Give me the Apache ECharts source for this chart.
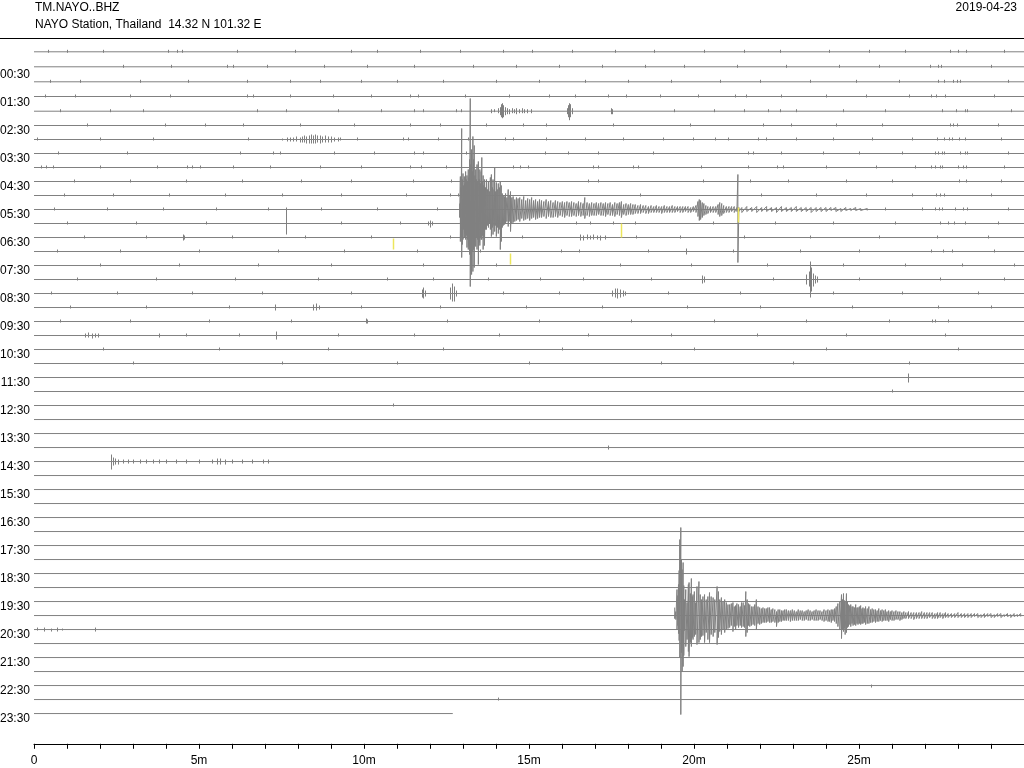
<!DOCTYPE html>
<html lang="en">
<head>
<meta charset="UTF-8">
<title>TM.NAYO..BHZ dayplot</title>
<script src="https://cdn.jsdelivr.net/npm/echarts@6.0.0/dist/echarts.min.js"></script>
<style>
  html, body { margin: 0; padding: 0; background: #fff; }
  #main { width: 1024px; height: 768px; }
</style>
</head>
<body>
<div id="main"></div>
<script>
var hourLabels = ['00:30','01:30','02:30','03:30','04:30','05:30','06:30','07:30','08:30','09:30','10:30','11:30',
                  '12:30','13:30','14:30','15:30','16:30','17:30','18:30','19:30','20:30','21:30','22:30','23:30'];
var minuteLabels = ['0', '5m', '10m', '15m', '20m', '25m'];
var traceCount = 48;          // one line every 30 minutes
var lastTraceEnd = 12.69;     // minutes recorded on the last line
var baselineShift = [-0.264, -0.193, -0.121, -0.071, -0.021];  // offsets (in line spacings) of the first lines
var countsPerLine = 14;       // amplitude units per line spacing

// big quake on the 05:30 line: [minute, up, down]
var quake1Trace = 11;
var quake1 = [
  [12.90, 6, 8], [12.92, 33, 32], [12.94, 22, 28], [12.96, 81, 48], [12.98, 30, 35], [13.00, 36, 30],
  [13.02, 24, 20], [13.04, 33, 28], [13.06, 26, 24], [13.08, 38, 30], [13.10, 30, 26], [13.12, 34, 38],
  [13.14, 28, 30], [13.16, 40, 40], [13.18, 32, 36], [13.20, 50, 45], [13.22, 111, 77], [13.24, 45, 50],
  [13.26, 60, 65], [13.28, 38, 42], [13.30, 73, 62], [13.32, 50, 40], [13.34, 64, 58], [13.36, 34, 36],
  [13.385, 40, 37], [13.405, 30, 28], [13.425, 45, 40], [13.445, 28, 30], [13.465, 48, 55], [13.49, 30, 33],
  [13.51, 40, 36], [13.53, 26, 28], [13.55, 38, 30], [13.57, 52, 30], [13.59, 28, 26], [13.61, 34, 40],
  [13.63, 24, 28], [13.65, 30, 36], [13.68, 22, 20], [13.71, 30, 20], [13.74, 20, 16], [13.77, 28, 18],
  [13.80, 18, 14], [13.83, 32, 20], [13.86, 35, 27], [13.89, 22, 18], [13.91, 30, 25], [13.94, 20, 16],
  [13.96, 42, 22], [13.99, 18, 16], [14.01, 27, 27], [14.04, 20, 18], [14.07, 26, 24], [14.10, 22, 20],
  [14.13, 28, 40], [14.16, 24, 32], [14.19, 16, 18], [14.22, 14, 16], [14.26, 13, 15], [14.29, 16, 14],
  [14.33, 12, 12], [14.37, 20, 17], [14.40, 14, 12], [14.44, 18, 22], [14.48, 12, 14], [14.52, 13, 13],
  [14.57, 10, 12], [14.62, 12, 11], [14.67, 11, 10], [14.72, 12, 12], [14.78, 10, 9], [14.84, 13, 11],
  [14.90, 9, 10], [14.96, 11, 9], [15.02, 10, 11], [15.08, 12, 9], [15.14, 9, 8], [15.20, 10, 10],
  [15.26, 8, 9], [15.32, 10, 8], [15.38, 9, 8], [15.45, 8, 7], [15.52, 10, 9], [15.59, 8, 7],
  [15.66, 9, 8], [15.73, 7, 8], [15.80, 9, 7], [15.87, 8, 8], [15.94, 7, 6], [16.01, 8, 7],
  [16.08, 7, 8], [16.15, 8, 6], [16.22, 7, 7], [16.29, 8, 7], [16.36, 7, 6], [16.43, 6, 7],
  [16.50, 8, 6], [16.57, 7, 7], [16.64, 6, 6], [16.69, 12, 9], [16.76, 7, 6], [16.83, 6, 7],
  [16.90, 7, 6], [16.97, 6, 6], [17.04, 7, 6], [17.11, 6, 5], [17.18, 7, 6], [17.25, 6, 6],
  [17.32, 7, 7], [17.39, 6, 5], [17.46, 7, 6], [17.53, 5, 6], [17.60, 7, 7], [17.67, 6, 5],
  [17.74, 7, 6], [17.80, 8, 8], [17.87, 5, 5], [17.94, 6, 6], [18.01, 5, 5], [18.08, 6, 5],
  [18.15, 5, 5], [18.22, 5, 4], [18.30, 4, 4], [18.38, 5, 4], [18.46, 4, 3], [18.54, 4, 4],
  [18.62, 3, 4], [18.70, 4, 3], [18.78, 3, 3], [18.86, 4, 3], [18.94, 3, 3], [19.02, 3, 4],
  [19.10, 4, 3], [19.18, 3, 3], [19.26, 3, 3], [19.34, 4, 3], [19.42, 3, 3], [19.50, 3, 2],
  [19.58, 3, 3], [19.66, 3, 3], [19.74, 3, 2], [19.82, 3, 3], [19.90, 2, 3], [19.98, 3, 2],
  [20.06, 4, 3], [20.12, 8, 7], [20.16, 10, 11], [20.20, 9, 10], [20.25, 7, 8], [20.30, 6, 6],
  [20.36, 4, 5], [20.42, 3, 4], [20.50, 3, 3], [20.58, 3, 3], [20.66, 3, 3], [20.73, 5, 5],
  [20.78, 7, 7], [20.84, 6, 6], [20.90, 4, 4], [20.98, 3, 3], [21.06, 3, 3], [21.14, 3, 2],
  [21.22, 3, 3], [21.30, 2, 2], [21.33, 35, 53], [21.36, 2, 2], [21.45, 2, 3], [21.60, 3, 2],
  [21.75, 2, 2], [21.90, 3, 3], [22.05, 2, 2], [22.20, 3, 2], [22.35, 2, 2], [22.50, 2, 3],
  [22.65, 3, 2], [22.80, 2, 2], [22.95, 2, 2], [23.10, 3, 2], [23.25, 2, 2], [23.40, 2, 2],
  [23.55, 2, 3], [23.70, 2, 2], [23.85, 2, 2], [24.00, 2, 2], [24.15, 2, 1], [24.30, 2, 2],
  [24.45, 1, 2], [24.60, 2, 1], [24.75, 1, 1], [24.90, 2, 1], [25.05, 1, 1], [25.25, 1, 1]
];

// big quake on the 20:00 line: [minute, up, down]
var quake2Trace = 40;
var quake2 = [
  [19.415, 8, 3], [19.45, 4, 4], [19.485, 26, 14], [19.51, 20, 10], [19.53, 31, 18], [19.55, 45, 25],
  [19.57, 76, 42], [19.60, 88, 99], [19.62, 56, 37], [19.64, 46, 56], [19.67, 53, 51], [19.69, 30, 40],
  [19.71, 16, 15], [19.75, 26, 31], [19.79, 13, 24], [19.83, 31, 36], [19.85, 33, 41], [19.89, 22, 27],
  [19.92, 37, 31], [19.95, 19, 22], [19.97, 21, 24], [20.01, 24, 21], [20.05, 13, 19], [20.09, 29, 29],
  [20.15, 34, 27], [20.19, 21, 24], [20.23, 16, 21], [20.27, 19, 20], [20.32, 21, 27], [20.37, 16, 17],
  [20.42, 19, 24], [20.47, 23, 27], [20.52, 19, 19], [20.58, 18, 21], [20.63, 16, 17], [20.70, 29, 29],
  [20.74, 24, 22], [20.78, 16, 16], [20.83, 18, 19], [20.88, 14, 14], [20.93, 16, 17], [20.98, 13, 14],
  [21.03, 11, 13], [21.08, 11, 12], [21.13, 12, 10], [21.18, 13, 16], [21.22, 9, 11], [21.26, 10, 14],
  [21.30, 12, 10], [21.35, 11, 12], [21.40, 9, 10], [21.44, 13, 12], [21.49, 13, 11], [21.53, 10, 12],
  [21.57, 24, 21], [21.61, 16, 17], [21.65, 12, 10], [21.69, 11, 11], [21.74, 9, 10], [21.79, 9, 9],
  [21.84, 11, 10], [21.89, 16, 14], [21.94, 9, 8], [21.99, 8, 9], [22.04, 7, 8], [22.09, 8, 7],
  [22.14, 7, 7], [22.19, 7, 7], [22.24, 8, 6], [22.29, 8, 7], [22.34, 6, 7], [22.39, 7, 6],
  [22.45, 6, 7], [22.50, 4, 11], [22.55, 6, 7], [22.60, 6, 6], [22.65, 5, 6], [22.70, 5, 5],
  [22.75, 6, 5], [22.80, 6, 5], [22.86, 5, 5], [22.92, 5, 6], [22.98, 6, 5], [23.04, 5, 5],
  [23.10, 4, 5], [23.16, 6, 5], [23.22, 5, 4], [23.28, 5, 5], [23.34, 4, 5], [23.40, 5, 4],
  [23.46, 6, 5], [23.52, 5, 5], [23.58, 4, 4], [23.64, 5, 5], [23.70, 6, 5], [23.76, 5, 5],
  [23.82, 5, 4], [23.88, 4, 5], [23.94, 6, 6], [24.00, 5, 5], [24.06, 6, 6], [24.11, 5, 6],
  [24.16, 6, 7], [24.21, 6, 5], [24.26, 7, 6], [24.31, 9, 8], [24.36, 12, 11], [24.42, 14, 14],
  [24.47, 21, 23], [24.50, 16, 14], [24.53, 22, 16], [24.56, 15, 13], [24.58, 14, 19], [24.62, 22, 17],
  [24.65, 14, 12], [24.68, 11, 11], [24.72, 10, 9], [24.75, 11, 11], [24.79, 9, 8], [24.82, 9, 10],
  [24.86, 8, 9], [24.90, 11, 10], [24.94, 8, 8], [24.97, 8, 9], [25.01, 9, 8], [25.05, 10, 9],
  [25.09, 7, 8], [25.12, 8, 8], [25.16, 7, 7], [25.20, 9, 9], [25.25, 7, 8], [25.30, 9, 8],
  [25.35, 6, 7], [25.40, 7, 7], [25.45, 6, 6], [25.50, 6, 7], [25.55, 5, 6], [25.60, 7, 6],
  [25.65, 5, 5], [25.70, 6, 6], [25.75, 5, 5], [25.80, 6, 5], [25.85, 4, 5], [25.90, 5, 6],
  [25.95, 4, 4], [26.00, 5, 5], [26.06, 4, 5], [26.12, 5, 4], [26.18, 4, 4], [26.24, 4, 5],
  [26.30, 3, 4], [26.36, 4, 3], [26.42, 3, 3], [26.50, 4, 3], [26.58, 3, 3], [26.66, 3, 4],
  [26.74, 3, 3], [26.82, 3, 3], [26.90, 4, 3], [26.98, 3, 3], [27.06, 3, 3], [27.14, 3, 2],
  [27.22, 3, 3], [27.30, 2, 3], [27.38, 3, 3], [27.46, 3, 2], [27.54, 2, 3], [27.62, 3, 2],
  [27.70, 2, 2], [27.80, 2, 2], [27.90, 2, 2], [28.00, 3, 2], [28.10, 2, 2], [28.20, 2, 2],
  [28.30, 2, 2], [28.40, 2, 2], [28.50, 2, 1], [28.60, 2, 2], [28.70, 1, 2], [28.80, 2, 2],
  [28.90, 2, 1], [29.00, 2, 2], [29.10, 1, 2], [29.20, 2, 1], [29.30, 2, 2], [29.40, 1, 1],
  [29.50, 2, 1], [29.60, 1, 2], [29.70, 2, 1], [29.80, 1, 1], [29.90, 2, 1]
];

// smaller events: [line, minute, up, down]
var smallEvents = [
  [4, 13.85, 2, 2], [4, 13.95, 2, 1], [4, 14.05, 3, 2], [4, 14.12, 4, 4], [4, 14.16, 7, 6], [4, 14.19, 8, 7],
  [4, 14.22, 6, 6], [4, 14.26, 4, 4], [4, 14.32, 3, 3], [4, 14.40, 2, 3], [4, 14.48, 3, 2], [4, 14.55, 2, 2],
  [4, 14.62, 3, 3], [4, 14.70, 2, 2], [4, 14.78, 3, 2], [4, 14.86, 2, 2], [4, 14.95, 2, 2], [4, 15.05, 2, 2],
  [4, 16.14, 3, 3], [4, 16.19, 6, 6], [4, 16.22, 8, 9], [4, 16.25, 7, 6], [4, 16.29, 3, 3],
  [4, 17.47, 3, 3], [4, 17.52, 2, 3],
  [6, 7.50, 1, 1], [6, 7.66, 2, 2], [6, 7.75, 2, 2], [6, 7.85, 2, 2], [6, 7.95, 3, 2], [6, 8.05, 2, 3],
  [6, 8.12, 3, 3], [6, 8.18, 4, 3], [6, 8.25, 3, 4], [6, 8.32, 4, 4], [6, 8.38, 5, 4], [6, 8.45, 4, 4],
  [6, 8.52, 5, 4], [6, 8.58, 4, 3], [6, 8.66, 4, 4], [6, 8.74, 3, 3], [6, 8.82, 4, 3], [6, 8.90, 3, 3],
  [6, 9.00, 3, 3], [6, 9.10, 2, 2], [6, 9.20, 2, 2], [6, 9.27, 2, 1],
  [12, 7.63, 16, 11], [12, 11.95, 2, 2], [12, 12.00, 3, 4], [12, 12.05, 2, 2],
  [13, 4.50, 3, 3], [13, 4.55, 2, 2],
  [13, 16.55, 3, 3], [13, 16.65, 2, 3], [13, 16.75, 3, 2], [13, 16.85, 2, 2], [13, 16.95, 3, 2],
  [13, 17.05, 2, 2], [13, 17.15, 2, 3], [13, 17.30, 2, 2],
  [14, 19.77, 3, 3],
  [16, 20.25, 4, 4], [16, 20.30, 3, 3],
  [16, 23.40, 5, 5], [16, 23.47, 8, 7], [16, 23.52, 18, 18], [16, 23.56, 12, 12], [16, 23.60, 6, 7],
  [16, 23.66, 4, 4], [16, 23.72, 3, 3],
  [17, 11.75, 4, 4], [17, 11.80, 6, 5], [17, 11.86, 3, 3],
  [17, 12.62, 6, 6], [17, 12.68, 10, 8], [17, 12.72, 7, 8], [17, 12.78, 3, 3],
  [17, 17.50, 3, 3], [17, 17.60, 5, 4], [17, 17.68, 5, 5], [17, 17.76, 4, 4], [17, 17.85, 3, 3], [17, 17.92, 2, 2],
  [18, 7.30, 3, 3], [18, 8.45, 3, 3], [18, 8.55, 4, 3], [18, 8.65, 2, 2],
  [19, 10.05, 3, 2], [19, 10.10, 2, 2],
  [20, 1.55, 2, 2], [20, 1.65, 3, 2], [20, 1.75, 2, 3], [20, 1.85, 2, 2], [20, 1.95, 2, 2],
  [20, 3.80, 2, 2], [20, 7.33, 4, 4],
  [23, 26.47, 4, 5], [24, 26.00, 2, 1], [25, 10.88, 2, 1], [28, 17.40, 2, 2],
  [29, 2.34, 7, 8], [29, 2.38, 4, 4], [29, 2.45, 3, 3], [29, 2.55, 2, 3], [29, 2.70, 2, 2], [29, 2.85, 2, 2],
  [29, 3.00, 2, 2], [29, 3.20, 2, 2], [29, 3.40, 2, 2], [29, 3.60, 2, 2], [29, 3.80, 2, 2], [29, 4.00, 2, 2],
  [29, 4.30, 2, 2], [29, 4.60, 2, 2], [29, 5.00, 2, 2], [29, 5.40, 2, 2], [29, 5.55, 3, 3], [29, 5.65, 3, 3],
  [29, 5.80, 2, 3], [29, 6.00, 2, 2], [29, 6.30, 2, 2], [29, 6.60, 2, 2], [29, 6.95, 2, 2], [29, 7.10, 2, 2],
  [41, 0.10, 2, 1], [41, 0.30, 2, 2], [41, 0.50, 1, 2], [41, 0.70, 2, 2], [41, 0.85, 1, 1], [41, 1.85, 2, 2],
  [45, 25.37, 1, 2], [46, 14.05, 2, 1]
];

// pale yellow strokes: [line, minute, from, to] (positive = downward)
var yellowMarks = [
  [13, 10.87, 1, 12], [14, 14.42, 2, 13], [12, 17.80, 0, 14], [11, 21.33, -2, 13]
];

// background noise ticks (minutes) on the quieter upper lines
var noiseTicks = [
  [0.42, 0.99, 2.1, 4.05, 4.33, 4.48, 6.14, 7.9, 9.6, 10.4, 11.7, 12.9, 14.2, 15.1, 16.3, 17.6, 18.8, 20.3, 21.5, 22.6, 24.1, 25.3, 26.4, 27.77, 28.0, 28.23, 29.4],
  [2.7, 4.14, 5.84, 6.02, 7.05, 8.8, 10.1, 11.5, 13.3, 14.6, 15.9, 17.2, 18.5, 19.7, 21.3, 22.8, 24.4, 25.6, 27.14, 27.39, 27.49, 29.0],
  [0.48, 1.38, 3.2, 4.66, 6.44, 7.75, 8.66, 9.9, 11.0, 12.4, 14.0, 15.3, 16.7, 18.0, 19.3, 20.8, 22.0, 23.5, 24.9, 26.2, 27.39, 27.59, 27.85, 27.97, 28.07, 29.5],
  [0.32, 1.23, 2.9, 4.11, 6.44, 6.63, 7.75, 9.05, 10.2, 11.38, 11.64, 13.05, 14.4, 15.6, 16.38, 17.39, 17.95, 18.96, 20.12, 21.23, 21.59, 22.65, 24.0, 25.2, 26.5, 27.19, 27.34, 27.62, 29.1],
  [0.78, 2.29, 3.3, 6.75, 7.65, 9.2, 10.5, 11.53, 11.79, 12.8, 12.95, 19.4, 20.6, 21.5, 22.24, 22.6, 23.1, 24.5, 25.8, 27.52, 27.95, 28.2, 28.27, 29.6],
  [1.6, 3.96, 5.17, 6.33, 8.05, 9.7, 11.38, 12.29, 13.71, 14.82, 15.52, 17.55, 19.87, 22.09, 22.95, 24.3, 25.7, 27.75, 27.85, 27.97, 29.2],
  [0.08, 1.99, 3.6, 6.48, 9.8, 11.18, 11.33, 12.24, 13.15, 14.26, 14.51, 15.52, 16.69, 17.85, 19.06, 19.97, 20.63, 21.03, 21.94, 22.19, 23.1, 24.2, 25.4, 26.6, 27.36, 27.59, 27.73, 27.83, 28.03, 28.2, 29.3],
  [0.72, 2.81, 6.23, 7.23, 7.45, 9.1, 10.3, 11.53, 11.79, 13.1, 15.47, 16.18, 17.09, 18.76, 21.64, 21.79, 22.65, 23.9, 25.0, 26.3, 27.29, 27.39, 27.52, 27.59, 28.07, 28.2, 28.27, 29.5],
  [0.2, 0.35, 0.57, 1.99, 3.72, 4.63, 4.8, 5.02, 6.02, 7.14, 8.66, 9.9, 11.38, 11.74, 12.49, 14.51, 14.72, 14.97, 16.94, 17.09, 18.15, 18.3, 20.22, 21.64, 22.5, 22.7, 24.0, 25.5, 26.7, 27.19, 27.29, 27.44, 27.52, 28.0, 28.15, 28.25, 29.4],
  [1.2, 2.9, 4.6, 6.3, 8.1, 9.6, 11.48, 12.65, 16.79, 17.09, 20.27, 21.69, 22.85, 24.6, 26.0, 28.03, 28.25, 29.3],
  [0.9, 2.4, 4.1, 5.8, 7.5, 9.3, 11.28, 12.6, 12.85, 18.35, 22.04, 23.7, 25.2, 26.6, 27.32, 27.44, 27.59, 29.0],
  [0.6, 2.2, 3.9, 5.5, 7.1, 8.7, 10.4, 12.2, 25.8, 26.9, 27.29, 27.42, 27.52, 27.9, 28.15, 28.27, 29.5],
  [1.0, 3.1, 5.2, 9.3, 11.1, 16.41, 16.84, 17.55, 18.2, 20.57, 22.44, 24.2, 26.1, 27.46, 27.7, 27.87, 28.2, 29.2],
  [1.5, 3.4, 6.0, 8.2, 10.2, 12.6, 14.8, 18.25, 19.57, 21.5, 23.5, 25.6, 27.36, 28.9],
  [0.7, 2.6, 5.0, 7.4, 9.4, 11.6, 13.5, 15.98, 16.53, 18.6, 21.18, 23.2, 25.0, 27.19, 27.56, 27.83, 29.1],
  [2.0, 4.4, 6.8, 9.0, 11.8, 14.0, 17.75, 19.9, 22.2, 24.5, 26.4, 28.13, 29.7],
  [1.3, 3.7, 6.1, 8.6, 10.7, 12.09, 13.76, 15.32, 16.64, 18.7, 22.39, 25.0, 27.46, 29.4],
  [0.5, 2.5, 4.8, 6.9, 9.6, 14.2, 15.9, 19.2, 21.4, 24.2, 26.3, 28.6],
  [1.1, 3.4, 5.9, 9.9, 12.3, 14.9, 17.2, 19.8, 22.0, 24.8, 27.4, 29.0],
  [0.8, 2.9, 5.3, 7.8, 12.5, 15.3, 18.1, 20.6, 23.4, 25.9, 27.22, 27.29, 27.7],
  [4.6, 6.2, 9.2, 11.5, 14.1, 16.8, 19.3, 21.9, 24.6, 27.62],
  [2.1, 5.6, 8.9, 12.4, 16.0, 20.0, 24.0, 28.0],
  [3.0, 7.5, 11.0, 15.0, 19.0, 23.0, 26.5]
];
var noiseUp = 2, noiseDown = 1;

// ---- build series ----
function baseOf(i) {
  return i + 0.65 + (baselineShift[i] || 0);
}

// baselines: one straight line per half hour
var series = [];
for (var i = 0; i < traceCount; i++) {
  var end = (i === traceCount - 1) ? lastTraceEnd : 30;
  series.push({
    type: 'line', data: [[0, baseOf(i)], [end, baseOf(i)]],
    showSymbol: false, symbol: 'none', silent: true, clip: false,
    lineStyle: { color: '#808080', width: 1 }, z: 2
  });
}

// the two quakes as continuous wiggles (top then bottom of every swing)
function wiggle(trace, list) {
  var b = baseOf(trace);
  var pts = [];
  list.forEach(function (m) {
    pts.push([m[0], b - m[1] / countsPerLine], [m[0], b + m[2] / countsPerLine]);
  });
  return {
    type: 'line', data: pts, showSymbol: false, symbol: 'none', silent: true, clip: false,
    lineStyle: { color: '#808080', width: 1 }, z: 3
  };
}
series.push(wiggle(quake1Trace, quake1), wiggle(quake2Trace, quake2));

// isolated strokes: [minute, lineBase, top, bottom] in axis units
var strokes = [];
function addStroke(trace, t, up, down) {
  var b = baseOf(trace);
  strokes.push([t, b, b - up / countsPerLine, b + down / countsPerLine]);
}
smallEvents.forEach(function (e) { addStroke(e[0], e[1], e[2], e[3]); });
noiseTicks.forEach(function (list, i) {
  list.forEach(function (t) { addStroke(i, t, noiseUp, noiseDown); });
});

var yellowStrokes = yellowMarks.map(function (y) {
  var b = baseOf(y[0]);
  return [y[1], b, b + y[2] / countsPerLine, b + y[3] / countsPerLine];
});

function strokeRenderer(color, width) {
  return function (params, api) {
    var p1 = api.coord([api.value(0), api.value(2)]);
    var p2 = api.coord([api.value(0), api.value(3)]);
    var x = Math.round(p1[0]) + 0.5;
    return {
      type: 'line',
      shape: { x1: x, y1: p1[1], x2: x, y2: p2[1] },
      style: { stroke: color, lineWidth: width },
      silent: true
    };
  };
}

series.push(
  {
    type: 'custom', data: strokes, encode: { x: 0, y: 1 }, clip: false, z: 3,
    renderItem: strokeRenderer('#808080', 1)
  },
  {
    type: 'custom', data: yellowStrokes, encode: { x: 0, y: 1 }, clip: false, z: 4,
    renderItem: strokeRenderer('#ece65c', 1.5)
  }
);

var myChart = echarts.init(document.getElementById('main'));
myChart.setOption({
  animation: false,
  backgroundColor: '#ffffff',
  textStyle: { fontFamily: 'Liberation Sans, Arial, sans-serif' },
  grid: { left: 34, width: 990, top: 46.4, height: 697.4, containLabel: false, outerBoundsMode: 'none' },
  xAxis: {
    type: 'value', min: 0, max: 30, interval: 1, position: 'bottom',
    axisLine: { show: true, onZero: false, lineStyle: { color: '#000', width: 1 } },
    axisTick: { show: true, length: 5, lineStyle: { color: '#000' } },
    splitLine: { show: false },
    axisLabel: {
      color: '#000', fontSize: 12, margin: 11,
      formatter: function (v) { return (v % 5 === 0 && v < 30) ? minuteLabels[v / 5] : ''; }
    }
  },
  yAxis: {
    type: 'value', inverse: true, min: 0, max: 49.81, interval: 2,
    axisLine: { show: false }, axisTick: { show: false }, splitLine: { show: false },
    axisLabel: {
      color: '#000', fontSize: 12, margin: 4,
      formatter: function (v) { return (v >= 2 && v <= 48 && v % 2 === 0) ? hourLabels[v / 2 - 1] : ''; }
    }
  },
  graphic: [
    { type: 'text', left: 35, top: 2, style: { text: 'TM.NAYO..BHZ', fill: '#000', font: '12px "Liberation Sans", Arial, sans-serif' } },
    { type: 'text', left: 35, top: 19, style: { text: 'NAYO Station, Thailand  14.32 N 101.32 E', fill: '#000', font: '12px "Liberation Sans", Arial, sans-serif' } },
    { type: 'text', right: 7, top: 2, style: { text: '2019-04-23', fill: '#000', font: '12px "Liberation Sans", Arial, sans-serif' } },
    { type: 'line', shape: { x1: 0, y1: 38.5, x2: 1024, y2: 38.5 }, style: { stroke: '#000', lineWidth: 1 } }
  ],
  series: series
});
</script>
</body>
</html>
